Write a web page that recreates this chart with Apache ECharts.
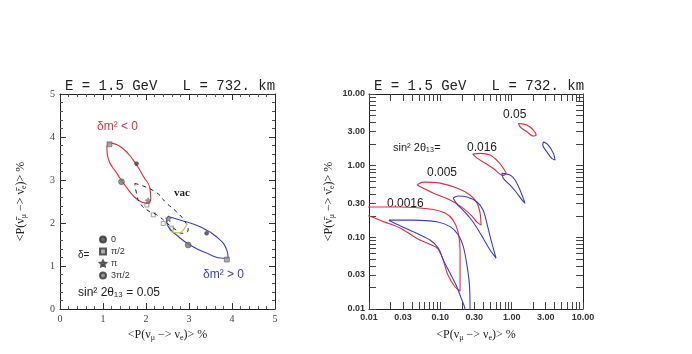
<!DOCTYPE html>
<html>
<head>
<meta charset="utf-8">
<script src="https://cdn.jsdelivr.net/npm/echarts@6.0.0/dist/echarts.min.js"></script>
<style>
    html, body { margin: 0; padding: 0; background: #fff; }
    #main { width: 692px; height: 354px; }
</style>
</head>
<body>
<div id="main"></div>
<script>
// left panel: sin^2 2theta13 = 0.05, linear axes (%)
var negEllipse = [[1.12, 3.87], [1.40, 3.78], [1.70, 3.47], [1.94, 3.08], [2.09, 2.81], [2.11, 2.57], [2.02, 2.46], [1.82, 2.53], [1.59, 2.77], [1.32, 3.16], [1.12, 3.50], [1.09, 3.74], [1.12, 3.87]];
var posEllipse = [[2.52, 2.15], [2.79, 2.07], [3.26, 1.91], [3.64, 1.68], [3.88, 1.37], [3.91, 1.18], [3.80, 1.18], [3.41, 1.30], [3.02, 1.49], [2.71, 1.72], [2.52, 1.91], [2.48, 2.07], [2.52, 2.15]];
var vacEllipse = [[1.74, 2.92], [2.21, 2.73], [2.48, 2.46], [2.71, 2.26], [2.91, 2.03], [2.98, 1.84], [2.87, 1.76], [2.64, 1.88], [2.25, 2.19], [2.09, 2.26], [1.86, 2.46], [1.78, 2.69], [1.74, 2.92]];
var vacArc = [[2.58, 1.80], [2.76, 1.77], [2.90, 1.88], [2.95, 2.0]];
var vacPoints = [[2.02, 2.42], [2.17, 2.19], [2.40, 1.99], [2.60, 1.88]];

var deltaNames = ['0', 'π/2', 'π', '3π/2'];
var deltaZero = [[1.78, 3.38], [3.41, 1.76]];
var deltaHalfPi = [[1.15, 3.83], [3.88, 1.15]];
var deltaPi = [[2.05, 2.52], [2.52, 2.10]];
var deltaThreeHalfPi = [[1.43, 2.96], [2.98, 1.49]];

// right panel: log-log contours, [x %, y %]
var red0016 = [[0.007, 0.265], [0.01, 0.265], [0.0272, 0.265], [0.0717, 0.248], [0.116, 0.218], [0.151, 0.174], [0.177, 0.119], [0.189, 0.0665], [0.189, 0.035], [0.189, 0.0178], [0.161, 0.0203], [0.128, 0.0298], [0.106, 0.0531], [0.090, 0.071], [0.0519, 0.0916], [0.0272, 0.135], [0.0167, 0.163], [0.01, 0.198], [0.007, 0.21]];
var blue0016 = [[0.222, 0.007], [0.222, 0.0097], [0.200, 0.0134], [0.170, 0.0205], [0.137, 0.0315], [0.110, 0.0482], [0.094, 0.0703], [0.0717, 0.0916], [0.0376, 0.126], [0.0197, 0.169], [0.0191, 0.174], [0.0418, 0.174], [0.089, 0.165], [0.137, 0.141], [0.179, 0.108], [0.210, 0.074], [0.234, 0.0434], [0.255, 0.0228], [0.261, 0.0097], [0.261, 0.007]];
var red005 = [[0.0471, 0.536], [0.0571, 0.590], [0.099, 0.571], [0.171, 0.487], [0.261, 0.389], [0.327, 0.301], [0.361, 0.218], [0.372, 0.148], [0.327, 0.163], [0.278, 0.198], [0.208, 0.256], [0.137, 0.331], [0.079, 0.415], [0.0471, 0.536]];
var blue005 = [[0.151, 0.353], [0.177, 0.377], [0.237, 0.365], [0.327, 0.311], [0.397, 0.240], [0.452, 0.153], [0.514, 0.0916], [0.604, 0.0514], [0.498, 0.0665], [0.397, 0.0977], [0.327, 0.135], [0.261, 0.186], [0.208, 0.240], [0.171, 0.291], [0.151, 0.353]];
var red016 = [[0.285, 1.45], [0.361, 1.485], [0.498, 1.406], [0.651, 1.133], [0.765, 0.916], [0.835, 0.781], [0.757, 0.728], [0.566, 0.897], [0.424, 1.087], [0.327, 1.276], [0.285, 1.45]];
var blue016 = [[0.726, 0.78], [0.95, 0.74], [1.116, 0.63], [1.31, 0.457], [1.54, 0.298], [1.40, 0.331], [1.153, 0.429], [0.95, 0.536], [0.765, 0.665], [0.726, 0.78]];
var red05 = [[1.24, 3.89], [1.63, 3.68], [2.01, 3.14], [2.20, 2.67], [2.01, 2.59], [1.63, 2.97], [1.31, 3.49], [1.24, 3.89]];
var blue05 = [[2.78, 2.15], [3.27, 1.94], [3.85, 1.485], [4.06, 1.20], [3.65, 1.264], [3.11, 1.563], [2.73, 1.94], [2.78, 2.15]];

var logLabels = [0.01, 0.03, 0.1, 0.3, 1, 3, 10];

var RED = '#dc3040';
var BLUE = '#3c3cc8';
var TITLE = 'E = 1.5 GeV   L = 732. km';

function toLog(points) {
    return points.map(function (p) {
        return [Math.log10(p[0]), Math.log10(p[1])];
    });
}

function logTickValues() {
    var ticks = [];
    [0.01, 0.1, 1].forEach(function (decade) {
        for (var k = 1; k <= 9; k++) {
            ticks.push(Math.log10(k * decade));
        }
    });
    ticks.push(1);
    return ticks;
}

var nameRich = {
    s: { fontSize: 8, fontFamily: 'Liberation Serif', padding: [7, 0, 0, 0], color: '#222' }
};
var xName = '<P(ν{s|μ} −> ν{s|e})> %';
var yName = '<P(ν̄{s|μ} −> ν̄{s|e})> %';

function linAxis(gridIndex, position, isX) {
    var main = position === 'bottom' || position === 'left';
    var axis = {
        type: 'value',
        gridIndex: gridIndex,
        position: position,
        min: 0,
        max: 5,
        interval: 1,
        axisLine: { show: true, onZero: false, lineStyle: { color: '#222', width: 1 } },
        axisTick: { show: true, inside: true, length: 6, lineStyle: { color: '#333' } },
        minorTick: { show: true, splitNumber: 5, length: 3, lineStyle: { color: '#555' } },
        splitLine: { show: false },
        axisLabel: { show: main, margin: 5, fontSize: 10, fontFamily: 'Liberation Serif', color: '#444' }
    };
    if (main) {
        axis.name = isX ? xName : yName;
        axis.nameLocation = 'middle';
        axis.nameGap = isX ? 18 : 32;
        axis.nameTextStyle = { fontSize: 12, fontFamily: 'Liberation Serif', color: '#222', rich: nameRich };
    }
    return axis;
}

function logAxis(gridIndex, position, isX) {
    var main = position === 'bottom' || position === 'left';
    var axis = {
        type: 'value',
        gridIndex: gridIndex,
        position: position,
        min: -2,
        max: 1,
        axisLine: { show: true, onZero: false, lineStyle: { color: '#222', width: 1 } },
        axisTick: { show: true, inside: true, length: 7, customValues: logTickValues(), lineStyle: { color: '#444' } },
        splitLine: { show: false },
        axisLabel: {
            show: main,
            margin: 4,
            fontSize: 9,
            fontWeight: 'bold',
            fontFamily: 'Liberation Sans',
            color: '#333',
            customValues: logLabels.map(function (v) { return Math.log10(v); }),
            formatter: function (v) { return Math.pow(10, v).toFixed(2); }
        }
    };
    if (main) {
        axis.name = isX ? xName : yName;
        axis.nameLocation = 'middle';
        axis.nameGap = isX ? 18 : 33;
        axis.nameTextStyle = { fontSize: 12, fontFamily: 'Liberation Serif', color: '#222', rich: nameRich };
    }
    return axis;
}

// axisIndex 0 = left panel axes, 2 = right panel axes
function lineSeries(points, color, axisIndex, extra) {
    var s = {
        type: 'line',
        xAxisIndex: axisIndex,
        yAxisIndex: axisIndex,
        data: points,
        symbol: 'none',
        smooth: 0.3,
        silent: true,
        lineStyle: { color: color, width: 1.1 }
    };
    if (extra) {
        Object.keys(extra).forEach(function (k) { s[k] = extra[k]; });
    }
    return s;
}

function markerSeries(name, points, symbol, size, color) {
    return {
        type: 'scatter',
        name: name,
        xAxisIndex: 0,
        yAxisIndex: 0,
        data: points,
        symbol: symbol,
        symbolSize: size,
        z: 5,
        itemStyle: { color: color, borderColor: '#333', borderWidth: 0.5 }
    };
}

var starPath = 'path://M0,-10L2.9,-4L9.5,-3.1L4.7,1.5L5.9,8.1L0,5L-5.9,8.1L-4.7,1.5L-9.5,-3.1L-2.9,-4Z';

function textItem(x, y, text, font, color) {
    return {
        type: 'text',
        x: x,
        y: y,
        silent: true,
        style: { text: text, font: font, fill: color || '#222', verticalAlign: 'middle' }
    };
}

var chart = echarts.init(document.getElementById('main'));

chart.setOption({
    animation: false,
    backgroundColor: '#fff',
    grid: [
        { left: 60, top: 94, width: 215, height: 215 },
        { left: 369, top: 94, width: 214, height: 215 }
    ],
    xAxis: [
        linAxis(0, 'bottom', true),
        linAxis(0, 'top', true),
        logAxis(1, 'bottom', true),
        logAxis(1, 'top', true)
    ],
    yAxis: [
        linAxis(0, 'left', false),
        linAxis(0, 'right', false),
        logAxis(1, 'left', false),
        logAxis(1, 'right', false)
    ],
    legend: {
        data: deltaNames,
        orient: 'vertical',
        left: 94,
        top: 229,
        itemWidth: 6,
        itemHeight: 6,
        itemGap: 1,
        selectedMode: false,
        textStyle: { fontSize: 9, fontFamily: 'Liberation Sans', color: '#333', lineHeight: 11 }
    },
    graphic: [
        textItem(65, 86, TITLE, '14px "Liberation Mono"'),
        textItem(374, 86, TITLE, '14px "Liberation Mono"'),
        textItem(97, 127, 'δm² < 0', '12px "Liberation Sans", "DejaVu Sans"', RED),
        textItem(174, 193, 'vac', 'bold 11px "Liberation Serif"'),
        textItem(203, 275, 'δm² > 0', '12px "Liberation Sans", "DejaVu Sans"', BLUE),
        textItem(78, 255, 'δ=', '10px "Liberation Sans", "DejaVu Sans"'),
        textItem(78, 293, 'sin² 2θ₁₃ = 0.05', '12px "Liberation Sans", "DejaVu Sans"'),
        textItem(503, 115, '0.05', '12px "Liberation Sans"'),
        textItem(393, 148, 'sin² 2θ₁₃=', '11px "Liberation Sans", "DejaVu Sans"'),
        textItem(467, 148, '0.016', '12px "Liberation Sans"'),
        textItem(427, 173, '0.005', '12px "Liberation Sans"'),
        textItem(387, 204, '0.0016', '12px "Liberation Sans"')
    ],
    series: [
        lineSeries(negEllipse, RED, 0, { smooth: true }),
        lineSeries(posEllipse, BLUE, 0, { smooth: true }),
        lineSeries(vacEllipse, '#222', 0, { smooth: true, lineStyle: { color: '#222', width: 1, type: [4, 4] } }),
        lineSeries(vacArc, '#c8c040', 0, { smooth: true }),
        {
            type: 'scatter',
            xAxisIndex: 0,
            yAxisIndex: 0,
            data: vacPoints,
            symbol: 'rect',
            symbolSize: 4,
            itemStyle: { color: '#fff', borderColor: '#888', borderWidth: 1 }
        },
        markerSeries('0', deltaZero, 'circle', 4, '#444'),
        markerSeries('π/2', deltaHalfPi, 'rect', 5, '#999'),
        markerSeries('π', deltaPi, starPath, 6, '#888'),
        markerSeries('3π/2', deltaThreeHalfPi, 'circle', 6, '#777'),
        lineSeries(toLog(red0016), RED, 2),
        lineSeries(toLog(blue0016), BLUE, 2),
        lineSeries(toLog(red005), RED, 2),
        lineSeries(toLog(blue005), BLUE, 2),
        lineSeries(toLog(red016), RED, 2),
        lineSeries(toLog(blue016), BLUE, 2),
        lineSeries(toLog(red05), RED, 2),
        lineSeries(toLog(blue05), BLUE, 2)
    ]
});
</script>
</body>
</html>
